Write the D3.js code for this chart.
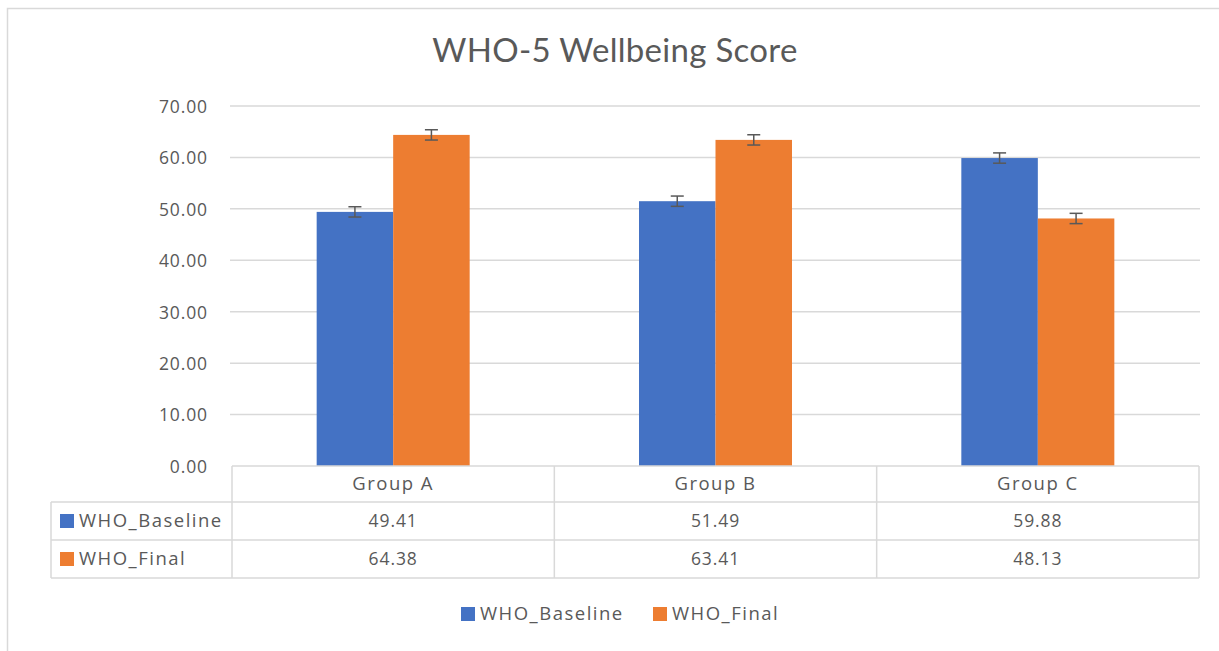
<!doctype html>
<html lang="en">
<head>
<meta charset="utf-8">
<script src="https://d3js.org/d3.v7.min.js"></script>
<style>
  body { margin: 0; background: #fff; }
  svg { display: block; font-family: "Open Sans", Lato, sans-serif; }
  .small { font-family: "Open Sans", sans-serif; font-size: 17.5px; letter-spacing: 0.9px; }
  .label { font-family: "Open Sans", sans-serif; font-size: 18.5px; letter-spacing: 1.5px; }
</style>
</head>
<body>
<div id="chart"></div>
<script>
// data
var groups = ["Group A", "Group B", "Group C"];
var seriesNames = ["WHO_Baseline", "WHO_Final"];
var baseline = [49.41, 51.49, 59.88];
var finalScores = [64.38, 63.41, 48.13];
var baselineErr = [1.0, 1.0, 1.0];
var finalErr = [1.0, 1.0, 1.0];
var yTicks = [0, 10, 20, 30, 40, 50, 60, 70];
var colors = ["#4472c4", "#ed7d31"];

var W = 1219, H = 651;
var plot = {left: 232, right: 1199, top: 106, bottom: 466};
var rowY = [466, 502, 540, 578];   // table row lines
var tableLeft = 51;

var svg = d3.select("#chart").append("svg")
  .attr("width", W).attr("height", H);

svg.append("rect").attr("width", W).attr("height", H).attr("fill", "#fff");

// chart frame
svg.append("rect")
  .attr("x", 7.5).attr("y", 8.5)
  .attr("width", W + 20).attr("height", H + 20)
  .attr("fill", "none").attr("stroke", "#d9d9d9").attr("stroke-width", 1.5);

svg.append("text")
  .attr("x", 615).attr("y", 62)
  .attr("text-anchor", "middle")
  .attr("fill", "#595959")
  .style("font-family", "Lato, sans-serif")
  .style("font-size", "33px")
  .style("letter-spacing", "0.3px")
  .text("WHO-5 Wellbeing Score");

var y = d3.scaleLinear().domain([0, 70]).range([plot.bottom, plot.top]);
var x0 = d3.scaleBand().domain(groups).range([plot.left, plot.right]);
var groupW = 153;
var inset = (x0.step() - groupW) / 2;
var x1 = d3.scaleBand().domain(seriesNames).range([inset, x0.step() - inset]);

// gridlines
svg.append("g").selectAll("line")
  .data(yTicks.slice(1))
  .enter().append("line")
  .attr("x1", plot.left - 2).attr("x2", plot.right + 1)
  .attr("y1", function(d) { return y(d); })
  .attr("y2", function(d) { return y(d); })
  .attr("stroke", "#d9d9d9").attr("stroke-width", 1.5);

// y axis labels
var yAxis = svg.append("g")
  .attr("transform", "translate(" + (plot.left - 24) + ",0)")
  .call(d3.axisLeft(y).tickValues(yTicks).tickFormat(d3.format(".2f")).tickSize(0).tickPadding(0));
yAxis.select(".domain").remove();
yAxis.selectAll("text")
  .attr("class", "small")
  .attr("fill", "#595959")
  .attr("dy", "0.36em");
yAxis.attr("font-family", null).attr("font-size", null);

// bars
var rows = groups.map(function(g, i) {
  return [
    {group: g, key: seriesNames[0], value: baseline[i], err: baselineErr[i], c: colors[0]},
    {group: g, key: seriesNames[1], value: finalScores[i], err: finalErr[i], c: colors[1]}
  ];
});
var flat = [].concat.apply([], rows);

svg.append("g").selectAll("rect")
  .data(flat)
  .enter().append("rect")
  .attr("x", function(d) { return x0(d.group) + x1(d.key); })
  .attr("width", x1.bandwidth())
  .attr("y", function(d) { return y(d.value); })
  .attr("height", function(d) { return y(0) - y(d.value); })
  .attr("fill", function(d) { return d.c; });

// error bars
var eb = svg.append("g").attr("stroke", "#595959").attr("stroke-width", 1.5);
flat.forEach(function(d) {
  var cx = x0(d.group) + x1(d.key) + x1.bandwidth() / 2;
  eb.append("line").attr("x1", cx).attr("x2", cx)
    .attr("y1", y(d.value + d.err)).attr("y2", y(d.value - d.err));
  [d.value + d.err, d.value - d.err].forEach(function(v) {
    eb.append("line").attr("x1", cx - 6.5).attr("x2", cx + 6.5)
      .attr("y1", y(v)).attr("y2", y(v));
  });
});

// data table
var tl = svg.append("g").attr("stroke", "#d9d9d9").attr("stroke-width", 1.5);
tl.append("line").attr("x1", plot.left).attr("x2", plot.right).attr("y1", rowY[0]).attr("y2", rowY[0]);
rowY.slice(1).forEach(function(ry) {
  tl.append("line").attr("x1", tableLeft).attr("x2", plot.right).attr("y1", ry).attr("y2", ry);
});
tl.append("line").attr("x1", tableLeft).attr("x2", tableLeft).attr("y1", rowY[1]).attr("y2", rowY[3]);
groups.forEach(function(g) {
  var xx = x0(g);
  tl.append("line").attr("x1", xx).attr("x2", xx).attr("y1", rowY[0]).attr("y2", rowY[3]);
});
tl.append("line").attr("x1", plot.right).attr("x2", plot.right).attr("y1", rowY[0]).attr("y2", rowY[3]);

var tt = svg.append("g").attr("fill", "#595959").attr("text-anchor", "middle");
groups.forEach(function(g, i) {
  var cx = x0(g) + x0.bandwidth() / 2;
  tt.append("text").attr("class", "label").attr("x", cx).attr("y", (rowY[0] + rowY[1]) / 2 + 6).text(g);
  tt.append("text").attr("class", "small").attr("x", cx).attr("y", (rowY[1] + rowY[2]) / 2 + 6).text(baseline[i].toFixed(2));
  tt.append("text").attr("class", "small").attr("x", cx).attr("y", (rowY[2] + rowY[3]) / 2 + 6).text(finalScores[i].toFixed(2));
});

// table row keys
seriesNames.forEach(function(s, i) {
  var cy = (rowY[i + 1] + rowY[i + 2]) / 2;
  svg.append("rect").attr("x", 60).attr("y", cy - 7).attr("width", 14).attr("height", 14).attr("fill", colors[i]);
  svg.append("text").attr("class", "label").attr("x", 79).attr("y", cy + 6)
    .attr("fill", "#595959").text(s);
});

// legend
var legX = [461, 653];
seriesNames.forEach(function(s, i) {
  svg.append("rect").attr("x", legX[i]).attr("y", 607).attr("width", 14).attr("height", 14).attr("fill", colors[i]);
  svg.append("text").attr("class", "label").attr("x", legX[i] + 19).attr("y", 620)
    .attr("fill", "#595959").text(s);
});
</script>
</body>
</html>
